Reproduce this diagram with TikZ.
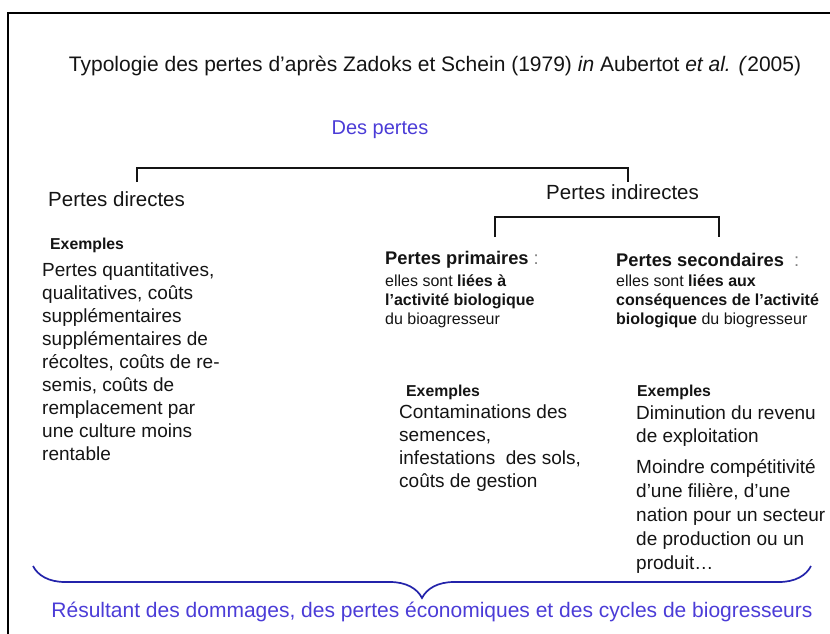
\documentclass[tikz,border=0pt]{standalone}
\usepackage{fontspec}
\setmainfont{Liberation Sans}
\usetikzlibrary{positioning, decorations.pathreplacing, calc}
\definecolor{pertesblue}{RGB}{75,60,215}
\definecolor{braceblue}{RGB}{35,35,170}
\definecolor{inkblack}{RGB}{20,20,20}
\tikzset{
    title/.style = {inner sep=0pt, font=\fontsize{21}{25}\selectfont, text=inkblack},
    heading/.style = {anchor=west, inner sep=0pt, font=\fontsize{20.5}{24}\selectfont, text=inkblack},
    subhead/.style = {anchor=west, inner sep=0pt, font=\bfseries\fontsize{18.3}{22}\selectfont, text=inkblack},
    exlabel/.style = {anchor=west, inner sep=0pt, font=\bfseries\fontsize{15.8}{18}\selectfont, text=inkblack},
    bodytext/.style = {anchor=north west, inner sep=0pt, align=left, font=\fontsize{19}{23}\selectfont, text=inkblack},
    smalltext/.style = {anchor=north west, inner sep=0pt, align=left, font=\fontsize{16}{19}\selectfont, text=inkblack},
    bracket/.style = {line width=2pt, inkblack},
    frame/.style = {line width=2pt, black}
}

\begin{document}
\begin{tikzpicture}[x=1pt, y=-1pt]
\useasboundingbox (0,0) rectangle (830,634);
\draw [frame] (8,640) -- (8,13) -- (840,13);

\node (title) [title] at (435,66) {Typologie des pertes d'après Zadoks et Schein (1979) \textit{in} Aubertot \textit{et al. (}2005)};
\node (pertes) [title, font=\fontsize{20}{24}\selectfont, text=pertesblue] at (380,130) {Des pertes};

% first level
\node (direct) [heading] at (48,199) {Pertes directes};
\node (indirect) [heading] at (546,192) {Pertes indirectes};
\coordinate (top1) at (380,168);
\coordinate (dirtick) at (137,182);
\coordinate (indtick) at (628,182);
\draw [bracket] (dirtick) |- (top1) -| (indtick);

% second level
\coordinate (top2) at (600,217);
\coordinate (primtick) at (495,237);
\coordinate (sectick) at (719,237);
\draw [bracket] (primtick) |- (top2) -| (sectick);

\node (primary) [subhead] at (385,260) {Pertes primaires {\mdseries\color{gray}:}};
\node (primtxt) [smalltext] at (385,275) {elles sont \textbf{liées à}\\\textbf{l'activité biologique}\\du bioagresseur};
\node (secondary) [subhead] at (616,260) {Pertes secondaires\ \ {\mdseries\color{gray}:}};
\node (sectxt) [smalltext] at (616,275) {elles sont \textbf{liées aux}\\\textbf{conséquences de l'activité}\\\textbf{biologique} du biogresseur};

% examples
\node (exdir) [exlabel] at (50,245) {Exemples};
\node (dirtxt) [bodytext] at (42,263) {Pertes quantitatives,\\qualitatives, coûts\\supplémentaires\\supplémentaires de\\récoltes, coûts de re-\\semis, coûts de\\remplacement par\\une culture moins\\rentable};
\node (exprim) [exlabel] at (406,392) {Exemples};
\node (primex) [bodytext] at (399,405) {Contaminations des\\semences,\\infestations\ \ des sols,\\coûts de gestion};
\node (exsec) [exlabel] at (637,392) {Exemples};
\node (secex) [bodytext] at (636,406) {Diminution du revenu\\de exploitation};
\node (secex2) [bodytext, font=\fontsize{19}{24}\selectfont] at (636,459) {Moindre compétitivité\\d'une filière, d'une\\nation pour un secteur\\de production ou un\\produit\dots};

% brace
\coordinate (bracel) at (33,566);
\coordinate (bracer) at (811,566);
\draw [braceblue, line width=1.7pt, decorate, decoration={brace, mirror, amplitude=32pt}] (bracel) -- (bracer);
\node (result) [title, text=pertesblue] at (432,612) {Résultant des dommages, des pertes économiques et des cycles de biogresseurs};
\end{tikzpicture}
\end{document}
